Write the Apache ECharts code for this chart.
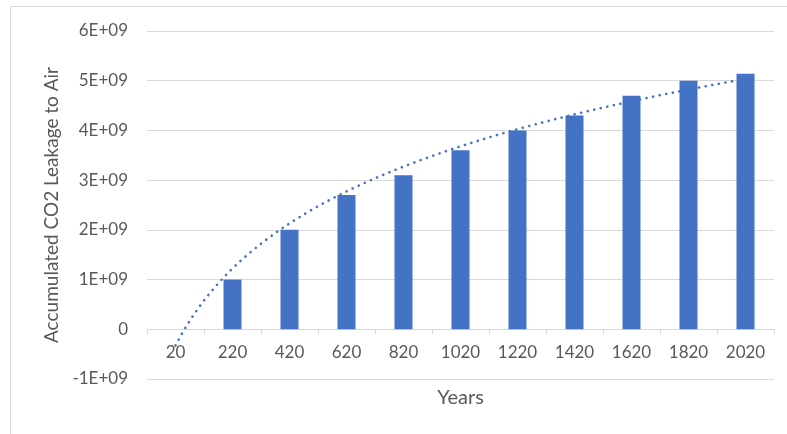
<!DOCTYPE html>
<html>
<head>
<meta charset="utf-8">
<script src="https://cdn.jsdelivr.net/npm/echarts@6/dist/echarts.min.js"></script>
<style>
  html, body { margin: 0; padding: 0; background: #fff; }
  #chart { width: 787px; height: 434px; }
</style>
</head>
<body>
<div id="chart"></div>
<script>
// Years since injection and accumulated CO2 leaked to the atmosphere
const years = ['20', '220', '420', '620', '820', '1020', '1220', '1420', '1620', '1820', '2020'];
const leakage = [0, 1.0e9, 2.0e9, 2.7e9, 3.1e9, 3.6e9, 4.0e9, 4.3e9, 4.7e9, 5.0e9, 5.14e9];
const yTicks = { min: -1e9, max: 6e9, step: 1e9 };

// Logarithmic trendline y = a*ln(i) + b, least squares over category index i = 1..n
function logFit(values) {
  const n = values.length;
  const xs = values.map((_, i) => Math.log(i + 1));
  const mx = xs.reduce((s, v) => s + v, 0) / n;
  const my = values.reduce((s, v) => s + v, 0) / n;
  let sxy = 0, sxx = 0;
  for (let i = 0; i < n; i++) {
    sxy += (xs[i] - mx) * (values[i] - my);
    sxx += (xs[i] - mx) * (xs[i] - mx);
  }
  const a = sxy / sxx;
  return { a, b: my - a * mx };
}
const fit = logFit(leakage);
const trend = [];
for (let t = 1; t <= years.length + 1e-9; t += 0.05) {
  trend.push([t, fit.a * Math.log(t) + fit.b]);
}

const font = 'Lato, "Open Sans", sans-serif';
const grey = '#595959';
const gridGrey = '#d9d9d9';
const plotBox = { left: 147, right: 13, top: 31, bottom: 55, outerBoundsMode: 'none' };

const chart = echarts.init(document.getElementById('chart'), null, { renderer: 'canvas' });
chart.setOption({
  animation: false,
  backgroundColor: '#fff',
  graphic: [{
    type: 'rect',
    shape: { x: 10.5, y: 6.5, width: 800, height: 460 },
    style: { fill: 'none', stroke: gridGrey, lineWidth: 1 },
    silent: true
  }],
  // grid 0 holds the bars and axes, grid 1 overlays it for the trendline
  grid: [Object.assign({}, plotBox), Object.assign({}, plotBox)],
  xAxis: [{
    type: 'category',
    gridIndex: 0,
    data: years,
    name: 'Years',
    nameLocation: 'middle',
    nameGap: 58,
    nameTextStyle: { fontFamily: font, fontSize: 20, color: grey },
    axisLine: { show: true, onZero: false, lineStyle: { color: gridGrey, width: 1 } },
    axisTick: { show: true, length: 5, lineStyle: { color: gridGrey } },
    axisLabel: { fontFamily: font, fontSize: 17, color: grey, margin: 15 },
    splitLine: { show: false }
  }, {
    type: 'value',
    gridIndex: 1,
    min: 0.5,
    max: years.length + 0.5,
    show: false
  }],
  yAxis: [{
    type: 'value',
    gridIndex: 0,
    min: yTicks.min,
    max: yTicks.max,
    interval: yTicks.step,
    name: 'Accumulated CO2 Leakage to Air',
    nameLocation: 'middle',
    nameGap: 86,
    nameTextStyle: { fontFamily: font, fontSize: 19, color: grey },
    axisLine: { show: false },
    axisTick: { show: false },
    axisLabel: {
      fontFamily: font, fontSize: 17, color: grey, margin: 19,
      formatter: v => v === 0 ? '0' : (v / 1e9) + 'E+09'
    },
    splitLine: { lineStyle: { color: gridGrey, width: 1 } }
  }, {
    type: 'value',
    gridIndex: 1,
    min: yTicks.min,
    max: yTicks.max,
    show: false
  }],
  series: [{
    type: 'bar',
    xAxisIndex: 0,
    yAxisIndex: 0,
    data: leakage,
    barWidth: 18,
    itemStyle: { color: '#4472C4' }
  }, {
    type: 'line',
    xAxisIndex: 1,
    yAxisIndex: 1,
    data: trend,
    showSymbol: false,
    lineStyle: { color: '#4472C4', width: 2.6, type: [0.1, 6.6], cap: 'round' },
    z: 3
  }]
});

// Lift the category axis from the plot bottom up to the y = 0 line
const zeroY = chart.convertToPixel({ yAxisIndex: 0 }, 0);
const bottomY = chart.convertToPixel({ yAxisIndex: 0 }, yTicks.min);
chart.setOption({ xAxis: [{ offset: zeroY - bottomY }] });
</script>
</body>
</html>
